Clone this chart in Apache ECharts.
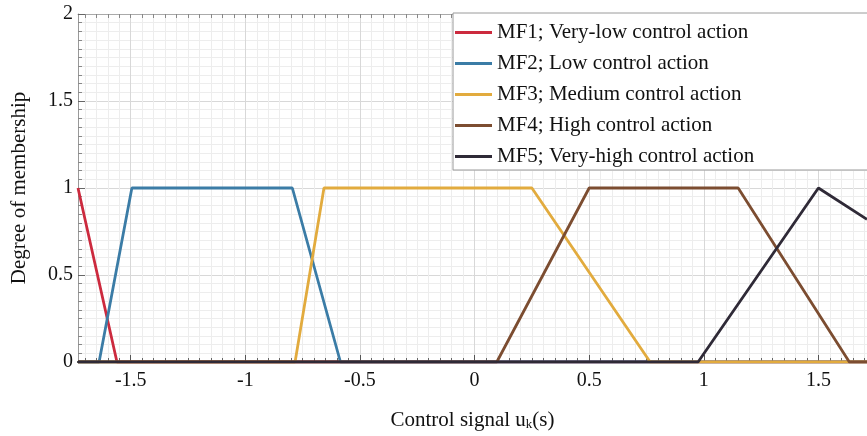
<!DOCTYPE html>
<html>
<head>
<meta charset="utf-8">
<script src="https://cdn.jsdelivr.net/npm/echarts@6/dist/echarts.min.js"></script>
<style>html,body{margin:0;padding:0;background:#fff}#c{width:867px;height:436px}</style>
</head>
<body>
<div id="c"></div>
<script>
// ---- data ----
const seriesNames = ['MF1; Very-low control action','MF2; Low control action','MF3; Medium control action','MF4; High control action','MF5; Very-high control action'];
const mf1X = [-1.73, -1.56, 1.712];
const mf1Y = [1, 0, 0];
const mf2X = [-1.73, -1.638, -1.495, -0.795, -0.585, 1.712];
const mf2Y = [0, 0, 1, 1, 0, 0];
const mf3X = [-1.73, -0.783, -0.657, 0.25, 0.766, 1.712];
const mf3Y = [0, 0, 1, 1, 0, 0];
const mf4X = [-1.73, 0.097, 0.5, 1.15, 1.635, 1.712];
const mf4Y = [0, 0, 1, 1, 0, 0];
const mf5X = [-1.73, 0.975, 1.5, 1.712];
const mf5Y = [0, 0, 1, 0.82];
const xMajorTicks = [-1.5, -1, -0.5, 0, 0.5, 1, 1.5];
const xTickLabels = ['-1.5', '-1', '-0.5', '0', '0.5', '1', '1.5'];
const yTickLabels = ['0', '0.5', '1', '1.5', '2'];
const X_MIN = -1.73, X_MAX = 1.712;

// minor tick positions (every 0.05)
const xMinorTicks = [];
for (let i = -34; i <= 34; i++) xMinorTicks.push(+(i * 0.05).toFixed(2));

const colors = ['#cc2a3e', '#3b7ca6', '#e2ab3e', '#7c4d31', '#2f2a37'];
const xs = [mf1X, mf2X, mf3X, mf4X, mf5X];
const ys = [mf1Y, mf2Y, mf3Y, mf4Y, mf5Y];
const FONT = '"Liberation Serif", "Times New Roman", serif';

const chart = echarts.init(document.getElementById('c'), null, {renderer: 'canvas'});
const labelMap = {};
xMajorTicks.forEach((v, i) => labelMap[v.toFixed(2)] = xTickLabels[i]);

chart.setOption({
  animation: false,
  backgroundColor: '#fff',
  color: colors,
  grid: {left: 78, right: 0, top: 14, bottom: 72, containLabel: false},
  legend: {
    orient: 'vertical',
    left: 453, top: 13,
    itemWidth: 37, itemHeight: 3, itemGap: 10,
    icon: 'rect',
    backgroundColor: '#fff',
    borderColor: '#9a9a9a', borderWidth: 1,
    padding: [9, 200, 3, 2],
    textStyle: {fontFamily: FONT, fontSize: 21, color: '#111', padding: [0, 0, 0, 0]},
    data: seriesNames
  },
  xAxis: [
    {
      type: 'value', min: X_MIN, max: X_MAX, position: 'bottom',
      name: 'Control signal u{s|k}(s)',
      nameLocation: 'middle', nameGap: 47,
      nameTextStyle: {fontFamily: FONT, fontSize: 21, color: '#111',
        rich: {s: {fontFamily: FONT, fontSize: 13, color: '#111', padding: [9, 0, 0, 0]}}},
      axisLine: {show: true, onZero: false, lineStyle: {color: '#111', width: 2}},
      axisTick: {show: true, inside: true, length: 4, customValues: xMinorTicks, lineStyle: {color: '#666'}},
      axisLabel: {customValues: xMajorTicks, margin: 9, fontFamily: FONT, fontSize: 20, color: '#111',
        formatter: v => labelMap[(+v).toFixed(2)] ?? ''},
      splitLine: {show: true, lineStyle: {color: '#ededed', width: 1}}
    },
    {
      type: 'value', min: X_MIN, max: X_MAX, position: 'bottom', gridIndex: 0,
      axisLine: {show: false},
      axisTick: {show: true, inside: true, length: 7, customValues: xMajorTicks, lineStyle: {color: '#555'}},
      axisLabel: {show: false},
      splitLine: {show: true, lineStyle: {color: '#d8d8d8', width: 1}}
    },
    {
      type: 'value', min: X_MIN, max: X_MAX, position: 'top', gridIndex: 0,
      axisLine: {show: true, onZero: false, lineStyle: {color: '#aaa', width: 1}},
      axisTick: {show: true, inside: true, length: 4, customValues: xMinorTicks, lineStyle: {color: '#888'}},
      axisLabel: {show: false},
      splitLine: {show: false}
    }
  ],
  yAxis: {
    type: 'value', min: 0, max: 2, interval: 0.5,
    name: 'Degree of membership', nameLocation: 'middle', nameGap: 48,
    nameTextStyle: {fontFamily: FONT, fontSize: 21, color: '#111'},
    axisLine: {show: true, onZero: false, lineStyle: {color: '#999', width: 1}},
    axisTick: {show: true, inside: true, length: 7, lineStyle: {color: '#666'}},
    minorTick: {show: true, splitNumber: 10, length: 4, lineStyle: {color: '#888'}},
    axisLabel: {margin: 5, fontFamily: FONT, fontSize: 20, color: '#111',
      formatter: v => yTickLabels[Math.round(v / 0.5)] ?? ''},
    splitLine: {show: true, lineStyle: {color: '#d8d8d8'}},
    minorSplitLine: {show: true, lineStyle: {color: '#ededed'}}
  },
  series: seriesNames.map((n, i) => ({
    name: n, type: 'line', xAxisIndex: 0,
    data: xs[i].map((x, j) => [x, ys[i][j]]),
    showSymbol: false, symbol: 'none',
    lineStyle: {width: 2.8, color: colors[i]},
    itemStyle: {color: colors[i]},
    z: 3 + i
  }))
});
</script>
</body>
</html>
